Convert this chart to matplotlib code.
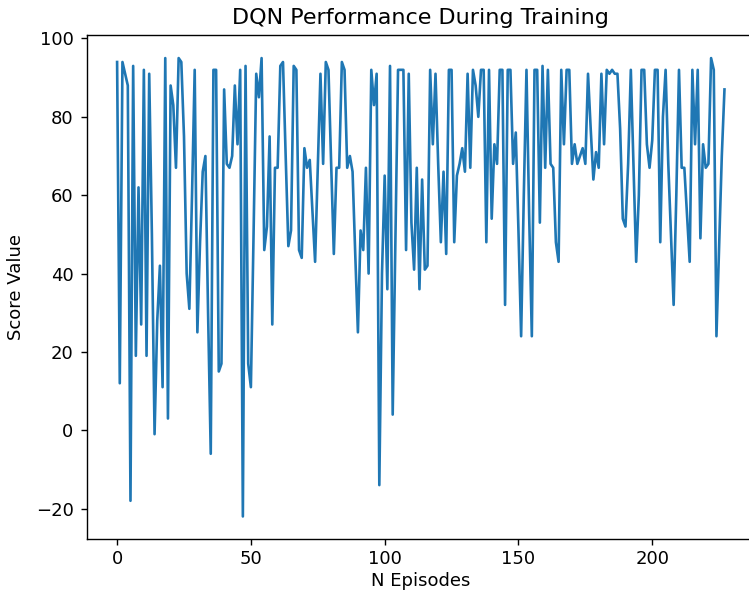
import numpy as np
import matplotlib
matplotlib.use('Agg')
import matplotlib.pyplot as plt

# score per training episode
scores = [94, 12, 94, 91, 88, -18, 93, 19, 62, 27,
          92, 19, 91, 50, -1, 28, 42, 11, 95, 3,
          88, 83, 67, 95, 94, 75, 40, 31, 60, 92,
          25, 48, 66, 70, 30, -6, 92, 92, 15, 17,
          87, 68, 67, 70, 88, 73, 92, -22, 93, 17,
          11, 50, 91, 85, 95, 46, 52, 75, 27, 67,
          67, 93, 94, 70, 47, 51, 93, 92, 46, 44,
          72, 67, 69, 56, 43, 67, 91, 68, 94, 92,
          68, 45, 67, 67, 94, 92, 67, 70, 66, 45,
          25, 51, 46, 67, 40, 92, 83, 91, -14, 40,
          65, 36, 93, 4, 48, 92, 92, 92, 46, 91,
          53, 41, 67, 36, 64, 41, 42, 92, 73, 91,
          68, 48, 66, 45, 92, 92, 48, 65, 68, 72,
          66, 91, 67, 92, 88, 80, 92, 92, 48, 92,
          54, 73, 68, 92, 92, 32, 92, 92, 68, 76,
          51, 24, 60, 92, 55, 24, 92, 92, 53, 93,
          67, 92, 68, 67, 48, 43, 92, 73, 92, 92,
          68, 73, 68, 70, 72, 68, 91, 77, 64, 71,
          67, 91, 73, 92, 91, 92, 91, 91, 77, 54,
          52, 68, 92, 67, 43, 60, 92, 92, 73, 67,
          74, 92, 92, 48, 80, 92, 68, 50, 32, 60,
          92, 67, 67, 55, 43, 92, 73, 92, 49, 73,
          67, 68, 95, 92, 24, 47, 70, 87]

episodes = np.arange(len(scores))

fig = plt.figure(figsize=(7.49, 5.96), dpi=100)
ax = fig.add_axes([0.1158, 0.095, 0.892, 0.846])

ax.plot(episodes, scores, color='#1f77b4', lw=1.9)

ax.set_title('DQN Performance During Training', fontsize=16, pad=8)
ax.set_xlabel('N Episodes', fontsize=13, labelpad=3)
ax.set_ylabel('Score Value', fontsize=13, labelpad=8)
ax.tick_params(labelsize=13, length=4.5, width=1)
ax.tick_params(axis='y', pad=5)
ax.tick_params(axis='x', pad=3)
for s in ax.spines.values():
    s.set_linewidth(1.0)

fig.savefig('out.png', dpi=100)
